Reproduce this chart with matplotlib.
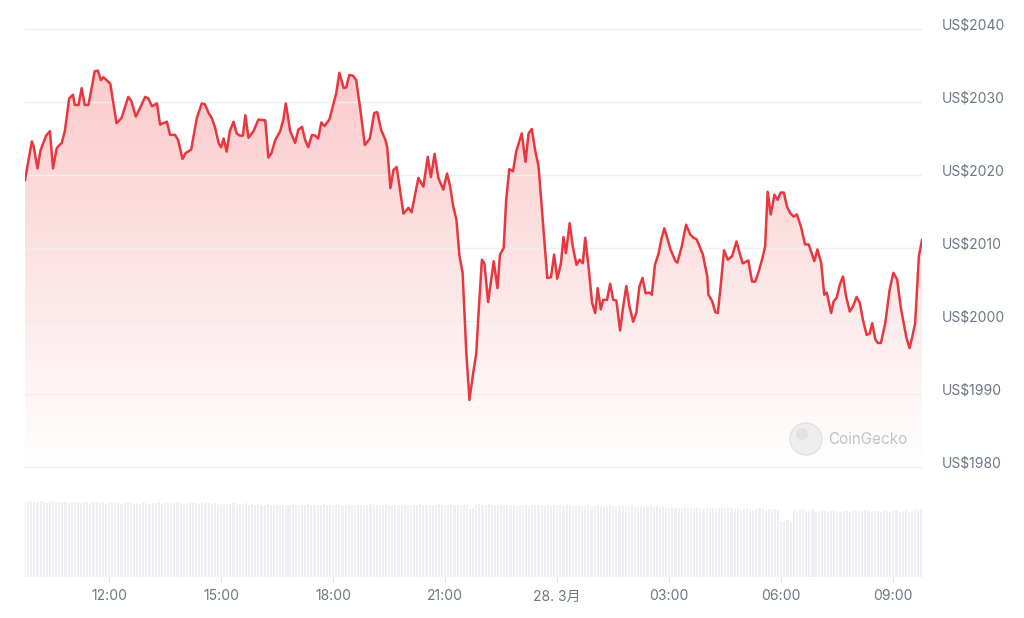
import numpy as np
import pandas as pd
import matplotlib
matplotlib.use("Agg")
import matplotlib.pyplot as plt
import matplotlib.dates as mdates
from matplotlib.patches import Polygon, Circle
from matplotlib.transforms import ScaledTranslation

plt.rcParams['font.family'] = ['Inter', 'Noto Sans CJK JP', 'DejaVu Sans']

# ---- data ----
start = pd.Timestamp("2023-03-27 09:45")

# minutes after start, price in USD
minutes = [
    0, 11, 14, 20, 25, 34, 40, 45, 51, 59, 64, 71, 77, 80, 86, 91, 96, 102, 112, 117,
    122, 126, 137, 147, 155, 166, 171, 178, 185, 193, 198, 204, 212, 217, 222, 228, 233, 241,
    246, 253, 258, 267, 276, 284, 289, 295, 300, 305, 311, 315, 319, 324, 329, 335, 340, 345,
    350, 354, 359, 367, 375, 383, 386, 391, 396, 402, 410, 415, 419, 426, 434, 439, 445, 450,
    455, 461, 466, 471, 476, 481, 489, 493,
    500, 505, 512, 516, 521, 527, 532, 538, 546, 554, 561, 566, 572, 579, 582, 587, 592, 597,
    608, 616, 621, 632, 640, 647, 652, 658, 664,
    672, 678, 683, 688, 693, 698, 703, 709, 714, 720, 725, 728, 734, 738, 744, 753, 759, 763,
    769, 773, 778, 784, 789, 798, 804, 809, 814, 820, 825, 833, 839, 845, 850, 855, 861, 865,
    869, 875,
    880, 886, 891, 896, 900, 905, 911, 916, 920, 925, 929, 935, 940, 945, 950, 956, 961, 966,
    971, 977, 982, 987, 992, 997, 1003, 1007, 1012, 1018, 1022, 1027, 1031, 1037, 1045, 1048,
    1055, 1062, 1069,
    1074, 1079, 1089, 1096, 1098, 1104, 1109, 1113, 1117, 1123, 1129, 1136, 1143, 1148, 1153,
    1162, 1168, 1173, 1178, 1184, 1189, 1193, 1198, 1204, 1209, 1214, 1219, 1224, 1229, 1235,
    1240,
    1247, 1253, 1259, 1268, 1273, 1279, 1284, 1288, 1295, 1299, 1304, 1309, 1314, 1319, 1325,
    1330, 1336, 1341, 1346, 1352, 1357, 1361, 1366, 1370, 1375, 1382, 1389, 1395, 1401, 1407,
    1416, 1421, 1425, 1430, 1436, 1441,
]
prices = [
    2019.3, 2024.6, 2023.9, 2020.9, 2023.4, 2025.4, 2026.0, 2020.9, 2023.7, 2024.4, 2026.0,
    2030.5, 2031.0, 2029.6, 2029.6, 2031.9, 2029.6, 2029.6, 2034.2, 2034.3, 2033.0, 2033.4,
    2032.5, 2027.1, 2027.8, 2030.7, 2030.1, 2028.0, 2029.2, 2030.7, 2030.5, 2029.4, 2029.8,
    2026.9, 2027.1, 2027.3, 2025.5, 2025.5,
    2024.8, 2022.2, 2023.0, 2023.5, 2027.8, 2029.8, 2029.7, 2028.5, 2027.8, 2026.6, 2024.4,
    2023.8, 2025.0, 2023.2, 2026.0, 2027.3, 2025.7, 2025.4, 2025.4, 2028.2, 2025.1, 2026.0,
    2027.6, 2027.5, 2027.5, 2022.4, 2023.0, 2024.8, 2026.0, 2027.6, 2029.8, 2026.0, 2024.4,
    2026.2, 2026.6, 2024.8, 2023.8, 2025.5, 2025.4, 2025.0, 2027.2, 2026.7, 2027.6, 2028.9,
    2031.2, 2034.0, 2031.9, 2032.0, 2033.7, 2033.6, 2033.0, 2029.4, 2024.1, 2025.0, 2028.5,
    2028.6, 2026.2, 2024.8, 2023.7, 2018.2, 2020.7, 2021.1, 2014.7, 2015.5, 2014.9, 2019.6,
    2018.4, 2022.5, 2019.7, 2022.9, 2019.6,
    2018.0, 2020.2, 2018.4, 2015.7, 2013.9, 2008.9, 2006.6, 1995.6, 1989.2, 1992.9, 1995.6,
    2000.2, 2008.4, 2007.9, 2002.6, 2008.2, 2004.5, 2009.1, 2010.0, 2016.6, 2020.8, 2020.5,
    2023.2, 2025.7, 2021.8, 2025.7, 2026.3, 2023.2, 2021.2, 2012.5, 2005.9, 2006.0, 2009.1,
    2005.8, 2007.9, 2011.5, 2009.3, 2013.4,
    2010.2, 2007.7, 2008.4, 2007.9, 2011.4, 2007.7, 2002.5, 2001.1, 2004.5, 2001.6, 2002.9,
    2002.9, 2005.1, 2002.9, 2002.8, 1998.7, 2002.0, 2004.8, 2002.0, 1999.9, 2001.1, 2004.7,
    2005.9, 2003.8, 2003.9, 2003.6, 2007.7, 2009.3, 2011.1, 2012.7, 2011.6, 2009.8, 2008.2,
    2008.0, 2010.2, 2013.2, 2011.8,
    2011.4, 2011.2, 2009.1, 2006.1, 2003.6, 2002.7, 2001.2, 2001.1, 2004.3, 2009.7, 2008.4,
    2008.9, 2010.9, 2009.3, 2007.9, 2008.3, 2005.4, 2005.4, 2006.6, 2008.4, 2010.2, 2017.7,
    2014.6, 2017.3, 2016.6, 2017.6, 2017.6, 2015.7, 2014.8, 2014.3, 2014.6,
    2012.8, 2010.5, 2010.5, 2008.2, 2009.8, 2008.0, 2003.6, 2003.9, 2001.1, 2002.7, 2003.2,
    2005.0, 2006.1, 2003.4, 2001.3, 2002.0, 2003.3, 2002.5, 2000.2, 1998.1, 1998.3, 1999.7,
    1997.5, 1997.0, 1997.0, 1999.7, 2004.3, 2006.6, 2005.7, 2001.8, 1997.7, 1996.3, 1997.7,
    1999.7, 2008.9, 2011.1,
]

# volume, one bar every 5 minutes (relative units)
volume = [
    98, 97, 99, 98, 97, 99, 98, 96, 98, 99, 97, 98,
    97, 98, 96, 97, 98, 97, 96, 98, 97, 96, 97, 98,
    96, 97, 95, 97, 96, 96, 97, 95, 96, 97, 96, 95,
    96, 95, 97, 96, 95, 96, 96, 97, 95, 96, 96, 95,
    96, 97, 96, 95, 96, 97, 96, 96, 95, 97, 96, 96,
    95, 96, 95, 94, 96, 95, 95, 96, 94, 95, 95, 96,
    94, 95, 94, 95, 93, 94, 95, 94, 94, 95, 93, 94,
    94, 93, 95, 94, 94, 93, 94, 95, 94, 93, 94, 94,
    95, 94, 93, 94, 95, 94, 94, 93, 95, 94, 93, 94,
    94, 93, 94, 95, 94, 93, 94, 94, 95, 93, 94, 94,
    93, 94, 95, 94, 93, 94, 94, 95, 93, 94, 94, 93,
    94, 95, 93, 94, 94, 95, 94, 93, 94, 95, 94, 88,
    89, 94, 95, 94, 93, 95, 94, 94, 93, 95, 94, 93,
    93, 94, 92, 93, 94, 93, 92, 94, 93, 93, 94, 92,
    93, 92, 94, 93, 93, 92, 93, 94, 92, 93, 93, 92,
    92, 93, 91, 92, 93, 92, 91, 92, 93, 92, 91, 92,
    92, 91, 92, 93, 91, 92, 92, 91, 92, 93, 91, 92,
    90, 91, 89, 90, 91, 90, 89, 90, 91, 90, 89, 90,
    89, 90, 88, 89, 90, 89, 88, 89, 90, 88, 89, 89,
    88, 89, 87, 88, 89, 88, 87, 88, 89, 88, 87, 88,
    87, 88, 87, 73, 71, 74, 72, 87, 86, 87, 88, 86,
    86, 87, 85, 86, 87, 86, 85, 86, 87, 86, 85, 86,
    86, 85, 87, 86, 85, 86, 87, 86, 85, 86, 86, 85,
    87, 86, 84, 86, 87, 85, 86, 87, 84, 86, 87, 88,
    88,
]

price_ticks = [1980, 1990, 2000, 2010, 2020, 2030, 2040]
time_ticks = ["2023-03-27 12:00", "2023-03-27 15:00", "2023-03-27 18:00",
              "2023-03-27 21:00", "2023-03-28 00:00", "2023-03-28 03:00",
              "2023-03-28 06:00", "2023-03-28 09:00"]

# ---- styling ----
red = '#e8373f'
label_gray = '#6e7684'
W, H = 1024, 618

times = start + pd.to_timedelta(minutes, unit='min')
vol_times = start + pd.to_timedelta(np.arange(len(volume)) * 5, unit='min')
x = mdates.date2num(times)
xmin, xmax = x[0], x[-1]

fig = plt.figure(figsize=(W / 100, H / 100), dpi=100)
fig.patch.set_facecolor('white')

ax = fig.add_axes([25 / W, 148 / H, 897 / W, 460 / H])
ylo, yhi = 1979.6, 2042.6
ax.set_xlim(xmin, xmax)
ax.set_ylim(ylo, yhi)

# gradient fill under the line
n = 256
alpha = np.linspace(0.32, 0.0, n)
grad = np.zeros((n, 1, 4))
grad[:, 0, 0] = 0.95
grad[:, 0, 1] = 0.25
grad[:, 0, 2] = 0.27
grad[:, 0, 3] = alpha
img = ax.imshow(grad, aspect='auto', extent=[xmin, xmax, ylo, yhi],
                origin='upper', zorder=1)
verts = np.column_stack([np.r_[x[0], x, x[-1]], np.r_[ylo, prices, ylo]])
clip = Polygon(verts, closed=True, transform=ax.transData, facecolor='none', edgecolor='none')
ax.add_patch(clip)
img.set_clip_path(clip)

ax.plot(x, prices, color=red, lw=1.8, zorder=3, solid_joinstyle='round')

for s in ax.spines.values():
    s.set_visible(False)
ax.set_xticks([])
ax.yaxis.tick_right()
ax.set_yticks(price_ticks)
ax.set_yticklabels([f"US${v}" for v in price_ticks])
ax.grid(axis='y', color='#efefef', lw=1.0, zorder=0)
ax.tick_params(axis='y', length=0, pad=14, labelsize=10, labelcolor=label_gray)
off = ScaledTranslation(0, 5 / 100, fig.dpi_scale_trans)
for lab in ax.get_yticklabels():
    lab.set_transform(lab.get_transform() + off)

# watermark
fig.patches.append(Circle((8.06, (H - 439) / 100), 0.16, transform=fig.dpi_scale_trans,
                          facecolor='#eeeeee', edgecolor='#e2e2e2', lw=1.0, zorder=5))
fig.patches.append(Circle((8.02, (H - 434) / 100), 0.06, transform=fig.dpi_scale_trans,
                          facecolor='#e2e2e2', edgecolor='none', zorder=6))
fig.text(828 / W, (H - 439) / H, "CoinGecko", fontsize=11, color='#c4c4c4',
         ha='left', va='center')

# volume bars
vax = fig.add_axes([25 / W, 41 / H, 897 / W, 77 / H])
vax.bar(mdates.date2num(vol_times), volume, width=3.4 / 1440, color='#edeff5',
        edgecolor='none', align='center')
vax.set_xlim(xmin, xmax)
vax.set_ylim(0, 100)
for s in vax.spines.values():
    s.set_visible(False)
vax.set_yticks([])

tick_dates = pd.to_datetime(time_ticks)
vax.set_xticks(mdates.date2num(tick_dates))
vax.set_xticklabels([f"{d.day}. {d.month}月" if d.hour == 0 else d.strftime("%H:%M")
                     for d in tick_dates])
vax.tick_params(axis='x', length=4, width=0.8, color='#e6e6e6', pad=5,
                labelsize=10, labelcolor=label_gray)

fig.savefig("out.png", dpi=100)
